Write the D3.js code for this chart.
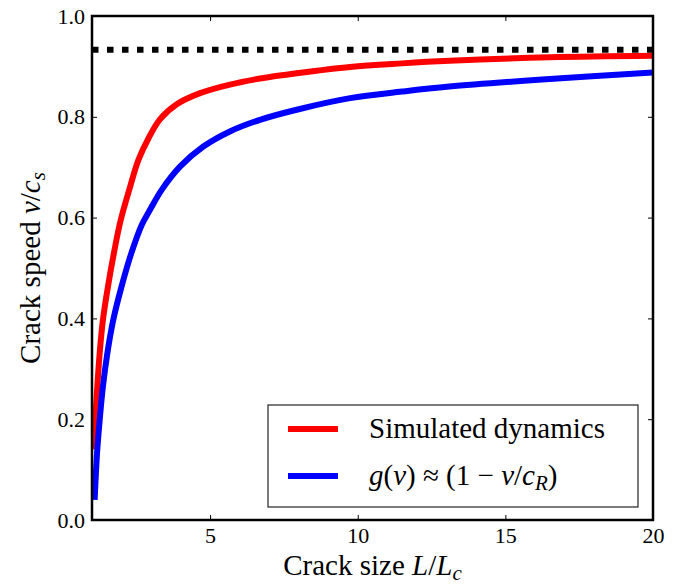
<!DOCTYPE html>
<html>
<head>
<meta charset="utf-8">
<script src="https://cdn.jsdelivr.net/npm/d3@7.9.0/dist/d3.min.js"></script>
<style>
  body { margin: 0; background: #fff; }
  svg text { font-family: 'Times New Roman', 'Liberation Serif', Tinos, 'DejaVu Serif', 'Noto Serif', FreeSerif, serif; fill: #000; }
</style>
</head>
<body>
<svg id="chart"></svg>
<script>
// values
const simL = [1.06, 1.11, 1.18, 1.26, 1.37, 1.54, 1.75, 1.96, 2.29, 2.57, 2.91, 3.30, 3.87, 4.66, 5.67, 6.69, 8.0, 9.74, 11.5, 13.1, 16.5, 20];
const simV = [0.14, 0.198, 0.265, 0.331, 0.397, 0.463, 0.532, 0.592, 0.661, 0.714, 0.757, 0.795, 0.825, 0.847, 0.864, 0.876, 0.887, 0.899, 0.906, 0.911, 0.918, 0.921];
const approxL = [1.09, 1.17, 1.26, 1.37, 1.52, 1.72, 2.0, 2.33, 2.68, 2.96, 3.36, 3.98, 4.77, 5.67, 6.69, 8.0, 9.74, 11.5, 13.1, 16.5, 20];
const approxV = [0.040, 0.132, 0.198, 0.265, 0.331, 0.397, 0.463, 0.529, 0.585, 0.615, 0.655, 0.701, 0.741, 0.771, 0.794, 0.815, 0.837, 0.850, 0.860, 0.875, 0.888];
const rayleigh = 0.933; // c_R / c_s, dotted line
const xTicks = [5, 10, 15, 20];
const yTicks = [0, 0.2, 0.4, 0.6, 0.8, 1.0];

const width = 685;
const height = 584;
const margin = { top: 16, right: 32, bottom: 64, left: 92 };

const svg = d3.select('#chart').attr('width', width).attr('height', height);

const x = d3.scaleLinear().domain([1, 20]).range([margin.left, width - margin.right]);
const y = d3.scaleLinear().domain([0, 1]).range([height - margin.bottom, margin.top]);

svg.append('defs').append('clipPath').attr('id', 'plot-clip')
  .append('rect')
  .attr('x', margin.left).attr('y', margin.top)
  .attr('width', x.range()[1] - margin.left)
  .attr('height', y.range()[0] - margin.top);

// ticks point inward on all four sides, like old matplotlib
const tickFont = 22;
function styleAxis(g) {
  g.attr('font-family', null).attr('font-size', null);
  g.select('.domain').remove();
  g.selectAll('.tick line').attr('stroke', '#000').attr('stroke-width', 1);
  g.selectAll('.tick text').style('font-size', tickFont + 'px');
}

svg.append('g')
  .attr('transform', `translate(0, ${y(0)})`)
  .call(d3.axisBottom(x).tickValues(xTicks).tickSizeInner(-5).tickSizeOuter(0).tickPadding(7).tickFormat(d3.format('d')))
  .call(styleAxis);

svg.append('g')
  .attr('transform', `translate(0, ${y(1)})`)
  .call(d3.axisTop(x).tickValues(xTicks).tickSizeInner(-5).tickSizeOuter(0).tickFormat(''))
  .call(styleAxis);

svg.append('g')
  .attr('transform', `translate(${x(1)}, 0)`)
  .call(d3.axisLeft(y).tickValues(yTicks).tickSizeInner(-5).tickSizeOuter(0).tickPadding(7).tickFormat(d3.format('.1f')))
  .call(styleAxis);

svg.append('g')
  .attr('transform', `translate(${x(20)}, 0)`)
  .call(d3.axisRight(y).tickValues(yTicks).tickSizeInner(-5).tickSizeOuter(0).tickFormat(''))
  .call(styleAxis);

const plot = svg.append('g').attr('clip-path', 'url(#plot-clip)');

const line = d3.line()
  .x((d) => x(d[0]))
  .y((d) => y(d[1]))
  .curve(d3.curveCatmullRom.alpha(0.5));

plot.append('path')
  .datum(simL.map((d, i) => [d, simV[i]]))
  .attr('d', line)
  .attr('fill', 'none')
  .attr('stroke', '#ff0000')
  .attr('stroke-width', 6);

plot.append('path')
  .datum(approxL.map((d, i) => [d, approxV[i]]))
  .attr('d', line)
  .attr('fill', 'none')
  .attr('stroke', '#0000ff')
  .attr('stroke-width', 6);

plot.append('line')
  .attr('x1', x(1)).attr('x2', x(20))
  .attr('y1', y(rayleigh)).attr('y2', y(rayleigh))
  .attr('stroke', '#000')
  .attr('stroke-width', 6)
  .attr('stroke-dasharray', '6.5 8.5');

// axes frame
svg.append('rect')
  .attr('x', x(1)).attr('y', y(1))
  .attr('width', x(20) - x(1))
  .attr('height', y(0) - y(1))
  .attr('fill', 'none')
  .attr('stroke', '#000')
  .attr('stroke-width', 2.5);

// legend
const legend = svg.append('g').attr('transform', 'translate(268, 405)');
legend.append('rect')
  .attr('width', 370).attr('height', 102)
  .attr('fill', '#fff')
  .attr('stroke', '#222')
  .attr('stroke-width', 1.2);

const legendItems = [
  { color: '#ff0000', y: 24 },
  { color: '#0000ff', y: 71 },
];
legend.selectAll('line.key')
  .data(legendItems)
  .join('line')
  .attr('class', 'key')
  .attr('x1', 20).attr('x2', 70)
  .attr('y1', (d) => d.y).attr('y2', (d) => d.y)
  .attr('stroke', (d) => d.color)
  .attr('stroke-width', 6);

legend.append('text')
  .attr('x', 101).attr('y', 33)
  .style('font-size', '29px')
  .text('Simulated dynamics');

const eq = legend.append('text')
  .attr('x', 101).attr('y', 80)
  .style('font-size', '29px');
eq.append('tspan').style('font-style', 'italic').text('g');
eq.append('tspan').text('(');
eq.append('tspan').style('font-style', 'italic').text('v');
eq.append('tspan').text(') \u2248 (1 \u2212 ');
eq.append('tspan').style('font-style', 'italic').text('v');
eq.append('tspan').text('/');
eq.append('tspan').style('font-style', 'italic').text('c');
eq.append('tspan').style('font-style', 'italic').style('font-size', '21px').attr('dy', 5).text('R');
eq.append('tspan').attr('dy', -5).text(')');

// axis labels
const xLabel = svg.append('text')
  .attr('x', (x(1) + x(20)) / 2)
  .attr('y', 575)
  .attr('text-anchor', 'middle')
  .style('font-size', '29px');
xLabel.append('tspan').text('Crack size ');
xLabel.append('tspan').style('font-style', 'italic').text('L');
xLabel.append('tspan').text('/');
xLabel.append('tspan').style('font-style', 'italic').text('L');
xLabel.append('tspan').style('font-style', 'italic').style('font-size', '21px').attr('dy', 5).text('c');

const yLabel = svg.append('text')
  .attr('transform', `translate(40, ${(y(0) + y(1)) / 2}) rotate(-90)`)
  .attr('text-anchor', 'middle')
  .style('font-size', '29px');
yLabel.append('tspan').text('Crack speed ');
yLabel.append('tspan').style('font-style', 'italic').text('v');
yLabel.append('tspan').text('/');
yLabel.append('tspan').style('font-style', 'italic').text('c');
yLabel.append('tspan').style('font-style', 'italic').style('font-size', '21px').attr('dy', 5).text('s');
</script>
</body>
</html>
